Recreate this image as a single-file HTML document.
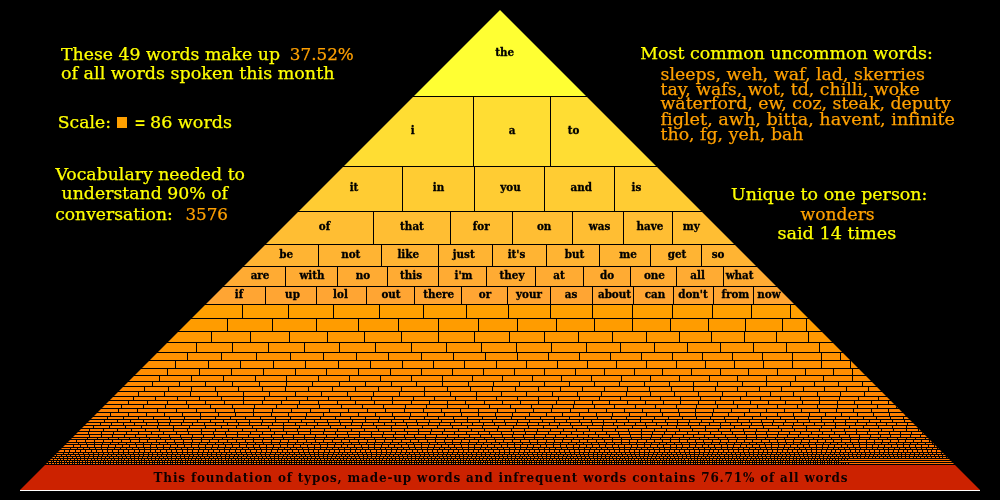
<!DOCTYPE html><html><head><meta charset="utf-8"><title>Word pyramid</title><style>html,body{margin:0;padding:0;background:#000;overflow:hidden}svg{display:block;will-change:transform}text{font-variant-ligatures:none;font-feature-settings:"liga" 0}</style></head><body>
<svg width="1000" height="500" viewBox="0 0 1000 500">
<rect width="1000" height="500" fill="#000"/>
<defs><clipPath id="tri"><polygon points="500,10 980,490 20,490"/></clipPath></defs>
<g clip-path="url(#tri)">
<rect x="0" y="10" width="1000" height="86" fill="#ffff33"/>
<rect x="0" y="97" width="1000" height="69" fill="#ffdd33"/>
<rect x="0" y="167" width="1000" height="44" fill="#ffcc33"/>
<rect x="0" y="212" width="1000" height="32" fill="#ffbe33"/>
<rect x="0" y="245" width="1000" height="21" fill="#ffb433"/>
<rect x="0" y="267" width="1000" height="19" fill="#ffab33"/>
<rect x="0" y="287" width="1000" height="17" fill="#ffa533"/>
<rect x="0" y="305" width="1000" height="13" fill="#ffa000"/>
<rect x="0" y="319" width="1000" height="12" fill="#ff9c00"/>
<rect x="0" y="332" width="1000" height="10" fill="#ff9800"/>
<rect x="0" y="343" width="1000" height="9" fill="#ff9500"/>
<rect x="0" y="353" width="1000" height="7" fill="#ff9200"/>
<rect x="0" y="361" width="1000" height="7" fill="#ff9000"/>
<rect x="0" y="369" width="1000" height="6" fill="#ff8d00"/>
<rect x="0" y="376" width="1000" height="5" fill="#ff8b00"/>
<rect x="0" y="382" width="1000" height="4" fill="#ff8a00"/>
<rect x="0" y="387" width="1000" height="4" fill="#ff8800"/>
<rect x="0" y="392" width="1000" height="4" fill="#ff8600"/>
<rect x="0" y="397" width="1000" height="3" fill="#ff8500"/>
<rect x="0" y="401" width="1000" height="3" fill="#ff8400"/>
<rect x="0" y="405" width="1000" height="3" fill="#ff8300"/>
<rect x="0" y="409" width="1000" height="3" fill="#ff8100"/>
<rect x="0" y="413" width="1000" height="3" fill="#ff8000"/>
<rect x="0" y="417" width="1000" height="2" fill="#ff7f00"/>
<rect x="0" y="420" width="1000" height="2" fill="#ff7e00"/>
<rect x="0" y="423" width="1000" height="2" fill="#ff7d00"/>
<rect x="0" y="426" width="1000" height="2" fill="#ff7c00"/>
<rect x="0" y="429" width="1000" height="2" fill="#ff7b00"/>
<rect x="0" y="432" width="1000" height="2" fill="#ff7a00"/>
<rect x="0" y="435" width="1000" height="2" fill="#ff7900"/>
<rect x="0" y="438" width="1000" height="1" fill="#ff7900"/>
<rect x="0" y="440" width="1000" height="2" fill="#ff7800"/>
<rect x="0" y="443" width="1000" height="1" fill="#ff7700"/>
<rect x="0" y="445" width="1000" height="2" fill="#ff7600"/>
<rect x="0" y="448" width="1000" height="1" fill="#ff7600"/>
<rect x="0" y="450" width="1000" height="2" fill="#ff7500"/>
<rect x="0" y="453" width="1000" height="1" fill="#ff7400"/>
<rect x="0" y="455" width="1000" height="1" fill="#ff7300"/>
<rect x="0" y="457" width="1000" height="1" fill="#ff7300"/>
<rect x="0" y="459" width="1000" height="1" fill="#ff7200"/>
<rect x="0" y="461" width="1000" height="1" fill="#ff7200"/>
<rect x="0" y="463" width="1000" height="1" fill="#ff7100"/>
<path d="M473.5 97V166M550.5 97V166M402.5 167V211M474.5 167V211M544.5 167V211M614.5 167V211M373.5 212V244M450.5 212V244M512.5 212V244M572.5 212V244M623.5 212V244M672.5 212V244M318.5 245V266M381.5 245V266M438.5 245V266M492.5 245V266M546.5 245V266M599.5 245V266M650.5 245V266M701.5 245V266M285.5 267V286M337.5 267V286M387.5 267V286M438.5 267V286M486.5 267V286M535.5 267V286M583.5 267V286M630.5 267V286M676.5 267V286M723.5 267V286M265.5 287V304M316.5 287V304M366.5 287V304M414.5 287V304M461.5 287V304M507.5 287V304M550.5 287V304M592.5 287V304M633.5 287V304M673.5 287V304M713.5 287V304M753.5 287V304M242.5 305V318M288.5 305V318M333.5 305V318M379.5 305V318M423.5 305V318M466.5 305V318M508.5 305V318M550.5 305V318M592.5 305V318M632.5 305V318M672.5 305V318M712.5 305V318M751.5 305V318M790.5 305V318M227.5 319V331M272.5 319V331M316.5 319V331M358.5 319V331M398.5 319V331M438.5 319V331M478.5 319V331M517.5 319V331M556.5 319V331M594.5 319V331M632.5 319V331M670.5 319V331M708.5 319V331M745.5 319V331M782.5 319V331M806.5 319V331M211.5 332V342M250.5 332V342M289.5 332V342M327.5 332V342M364.5 332V342M401.5 332V342M438.5 332V342M474.5 332V342M509.5 332V342M544.5 332V342M578.5 332V342M612.5 332V342M646.5 332V342M679.5 332V342M711.5 332V342M744.5 332V342M776.5 332V342M808.5 332V342M196.5 343V352M232.5 343V352M268.5 343V352M304.5 343V352M339.5 343V352M375.5 343V352M411.5 343V352M446.5 343V352M481.5 343V352M516.5 343V352M551.5 343V352M586.5 343V352M620.5 343V352M654.5 343V352M687.5 343V352M720.5 343V352M753.5 343V352M786.5 343V352M819.5 343V352M187.5 353V360M221.5 353V360M256.5 353V360M290.5 353V360M323.5 353V360M356.5 353V360M388.5 353V360M421.5 353V360M453.5 353V360M485.5 353V360M517.5 353V360M548.5 353V360M579.5 353V360M610.5 353V360M641.5 353V360M672.5 353V360M702.5 353V360M732.5 353V360M762.5 353V360M792.5 353V360M821.5 353V360M840.5 353V360M175.5 361V368M208.5 361V368M240.5 361V368M273.5 361V368M305.5 361V368M338.5 361V368M370.5 361V368M402.5 361V368M433.5 361V368M464.5 361V368M496.5 361V368M526.5 361V368M557.5 361V368M587.5 361V368M616.5 361V368M646.5 361V368M676.5 361V368M705.5 361V368M734.5 361V368M763.5 361V368M792.5 361V368M821.5 361V368M850.5 361V368M167.5 369V375M199.5 369V375M231.5 369V375M263.5 369V375M295.5 369V375M326.5 369V375M358.5 369V375M390.5 369V375M421.5 369V375M452.5 369V375M483.5 369V375M514.5 369V375M544.5 369V375M575.5 369V375M604.5 369V375M634.5 369V375M662.5 369V375M691.5 369V375M720.5 369V375M748.5 369V375M777.5 369V375M805.5 369V375M833.5 369V375M852.5 369V375M159.5 376V381M191.5 376V381M223.5 376V381M255.5 376V381M286.5 376V381M318.5 376V381M349.5 376V381M380.5 376V381M411.5 376V381M442.5 376V381M472.5 376V381M502.5 376V381M532.5 376V381M561.5 376V381M591.5 376V381M621.5 376V381M650.5 376V381M679.5 376V381M709.5 376V381M737.5 376V381M766.5 376V381M795.5 376V381M823.5 376V381M852.5 376V381M152.5 382V386M179.5 382V386M205.5 382V386M232.5 382V386M259.5 382V386M286.5 382V386M312.5 382V386M339.5 382V386M365.5 382V386M391.5 382V386M416.5 382V386M442.5 382V386M468.5 382V386M493.5 382V386M519.5 382V386M544.5 382V386M569.5 382V386M594.5 382V386M619.5 382V386M644.5 382V386M669.5 382V386M693.5 382V386M717.5 382V386M742.5 382V386M766.5 382V386M790.5 382V386M814.5 382V386M838.5 382V386M862.5 382V386M144.5 387V391M168.5 387V391M191.5 387V391M215.5 387V391M238.5 387V391M262.5 387V391M285.5 387V391M308.5 387V391M332.5 387V391M355.5 387V391M378.5 387V391M401.5 387V391M424.5 387V391M447.5 387V391M470.5 387V391M492.5 387V391M515.5 387V391M538.5 387V391M560.5 387V391M582.5 387V391M604.5 387V391M627.5 387V391M649.5 387V391M671.5 387V391M693.5 387V391M715.5 387V391M737.5 387V391M759.5 387V391M781.5 387V391M803.5 387V391M824.5 387V391M846.5 387V391M868.5 387V391M138.5 392V396M164.5 392V396M190.5 392V396M217.5 392V396M243.5 392V396M269.5 392V396M295.5 392V396M321.5 392V396M347.5 392V396M373.5 392V396M399.5 392V396M424.5 392V396M450.5 392V396M476.5 392V396M501.5 392V396M526.5 392V396M552.5 392V396M577.5 392V396M601.5 392V396M626.5 392V396M650.5 392V396M674.5 392V396M698.5 392V396M722.5 392V396M746.5 392V396M770.5 392V396M793.5 392V396M817.5 392V396M840.5 392V396M864.5 392V396M133.5 397V400M155.5 397V400M177.5 397V400M199.5 397V400M221.5 397V400M243.5 397V400M264.5 397V400M286.5 397V400M307.5 397V400M328.5 397V400M350.5 397V400M371.5 397V400M392.5 397V400M413.5 397V400M434.5 397V400M455.5 397V400M476.5 397V400M496.5 397V400M517.5 397V400M538.5 397V400M558.5 397V400M579.5 397V400M599.5 397V400M620.5 397V400M640.5 397V400M660.5 397V400M680.5 397V400M700.5 397V400M720.5 397V400M740.5 397V400M760.5 397V400M780.5 397V400M800.5 397V400M819.5 397V400M839.5 397V400M858.5 397V400M878.5 397V400M128.5 401V404M147.5 401V404M167.5 401V404M186.5 401V404M205.5 401V404M224.5 401V404M243.5 401V404M262.5 401V404M281.5 401V404M299.5 401V404M318.5 401V404M337.5 401V404M355.5 401V404M374.5 401V404M392.5 401V404M411.5 401V404M429.5 401V404M447.5 401V404M465.5 401V404M484.5 401V404M502.5 401V404M520.5 401V404M538.5 401V404M556.5 401V404M574.5 401V404M592.5 401V404M609.5 401V404M627.5 401V404M645.5 401V404M663.5 401V404M680.5 401V404M698.5 401V404M715.5 401V404M733.5 401V404M750.5 401V404M768.5 401V404M785.5 401V404M802.5 401V404M819.5 401V404M837.5 401V404M854.5 401V404M871.5 401V404M888.5 401V404M121.5 405V408M143.5 405V408M165.5 405V408M188.5 405V408M210.5 405V408M232.5 405V408M254.5 405V408M276.5 405V408M297.5 405V408M319.5 405V408M341.5 405V408M362.5 405V408M383.5 405V408M405.5 405V408M426.5 405V408M447.5 405V408M468.5 405V408M489.5 405V408M510.5 405V408M531.5 405V408M552.5 405V408M573.5 405V408M594.5 405V408M614.5 405V408M635.5 405V408M655.5 405V408M676.5 405V408M696.5 405V408M717.5 405V408M737.5 405V408M757.5 405V408M777.5 405V408M797.5 405V408M817.5 405V408M837.5 405V408M857.5 405V408M877.5 405V408M896.5 405V408M118.5 409V412M137.5 409V412M157.5 409V412M176.5 409V412M196.5 409V412M215.5 409V412M234.5 409V412M253.5 409V412M272.5 409V412M291.5 409V412M310.5 409V412M329.5 409V412M348.5 409V412M367.5 409V412M385.5 409V412M404.5 409V412M423.5 409V412M441.5 409V412M460.5 409V412M478.5 409V412M497.5 409V412M515.5 409V412M533.5 409V412M551.5 409V412M570.5 409V412M588.5 409V412M606.5 409V412M624.5 409V412M642.5 409V412M660.5 409V412M678.5 409V412M695.5 409V412M713.5 409V412M731.5 409V412M749.5 409V412M766.5 409V412M784.5 409V412M801.5 409V412M819.5 409V412M836.5 409V412M853.5 409V412M871.5 409V412M888.5 409V412M110.5 413V416M128.5 413V416M146.5 413V416M164.5 413V416M182.5 413V416M200.5 413V416M218.5 413V416M235.5 413V416M253.5 413V416M271.5 413V416M288.5 413V416M306.5 413V416M323.5 413V416M340.5 413V416M358.5 413V416M375.5 413V416M392.5 413V416M410.5 413V416M427.5 413V416M444.5 413V416M461.5 413V416M478.5 413V416M495.5 413V416M512.5 413V416M529.5 413V416M546.5 413V416M562.5 413V416M579.5 413V416M596.5 413V416M612.5 413V416M629.5 413V416M646.5 413V416M662.5 413V416M679.5 413V416M695.5 413V416M712.5 413V416M728.5 413V416M744.5 413V416M760.5 413V416M777.5 413V416M793.5 413V416M809.5 413V416M825.5 413V416M841.5 413V416M857.5 413V416M873.5 413V416M889.5 413V416M905.5 413V416M107.5 417V419M123.5 417V419M138.5 417V419M153.5 417V419M169.5 417V419M184.5 417V419M200.5 417V419M215.5 417V419M230.5 417V419M245.5 417V419M260.5 417V419M275.5 417V419M290.5 417V419M305.5 417V419M320.5 417V419M335.5 417V419M350.5 417V419M365.5 417V419M379.5 417V419M394.5 417V419M409.5 417V419M424.5 417V419M438.5 417V419M453.5 417V419M467.5 417V419M482.5 417V419M496.5 417V419M511.5 417V419M525.5 417V419M540.5 417V419M554.5 417V419M569.5 417V419M583.5 417V419M597.5 417V419M611.5 417V419M626.5 417V419M640.5 417V419M654.5 417V419M668.5 417V419M682.5 417V419M696.5 417V419M710.5 417V419M724.5 417V419M738.5 417V419M752.5 417V419M766.5 417V419M780.5 417V419M794.5 417V419M808.5 417V419M821.5 417V419M835.5 417V419M849.5 417V419M863.5 417V419M876.5 417V419M890.5 417V419M903.5 417V419M104.5 420V422M117.5 420V422M130.5 420V422M143.5 420V422M157.5 420V422M170.5 420V422M183.5 420V422M197.5 420V422M210.5 420V422M223.5 420V422M236.5 420V422M249.5 420V422M262.5 420V422M275.5 420V422M288.5 420V422M301.5 420V422M314.5 420V422M327.5 420V422M339.5 420V422M352.5 420V422M365.5 420V422M378.5 420V422M391.5 420V422M403.5 420V422M416.5 420V422M429.5 420V422M441.5 420V422M454.5 420V422M467.5 420V422M479.5 420V422M492.5 420V422M504.5 420V422M517.5 420V422M529.5 420V422M542.5 420V422M554.5 420V422M566.5 420V422M579.5 420V422M591.5 420V422M603.5 420V422M616.5 420V422M628.5 420V422M640.5 420V422M652.5 420V422M665.5 420V422M677.5 420V422M689.5 420V422M701.5 420V422M713.5 420V422M725.5 420V422M737.5 420V422M749.5 420V422M761.5 420V422M773.5 420V422M785.5 420V422M797.5 420V422M809.5 420V422M821.5 420V422M833.5 420V422M845.5 420V422M857.5 420V422M869.5 420V422M880.5 420V422M892.5 420V422M904.5 420V422M100.5 423V425M111.5 423V425M123.5 423V425M134.5 423V425M146.5 423V425M158.5 423V425M169.5 423V425M181.5 423V425M192.5 423V425M204.5 423V425M215.5 423V425M227.5 423V425M238.5 423V425M249.5 423V425M261.5 423V425M272.5 423V425M283.5 423V425M295.5 423V425M306.5 423V425M317.5 423V425M328.5 423V425M340.5 423V425M351.5 423V425M362.5 423V425M373.5 423V425M384.5 423V425M395.5 423V425M406.5 423V425M417.5 423V425M428.5 423V425M439.5 423V425M450.5 423V425M461.5 423V425M472.5 423V425M483.5 423V425M494.5 423V425M505.5 423V425M516.5 423V425M527.5 423V425M538.5 423V425M549.5 423V425M559.5 423V425M570.5 423V425M581.5 423V425M592.5 423V425M603.5 423V425M613.5 423V425M624.5 423V425M635.5 423V425M645.5 423V425M656.5 423V425M667.5 423V425M677.5 423V425M688.5 423V425M699.5 423V425M709.5 423V425M720.5 423V425M730.5 423V425M741.5 423V425M751.5 423V425M762.5 423V425M772.5 423V425M783.5 423V425M793.5 423V425M803.5 423V425M814.5 423V425M824.5 423V425M835.5 423V425M845.5 423V425M855.5 423V425M866.5 423V425M876.5 423V425M886.5 423V425M896.5 423V425M907.5 423V425M93.5 426V428M109.5 426V428M125.5 426V428M141.5 426V428M157.5 426V428M173.5 426V428M189.5 426V428M205.5 426V428M221.5 426V428M236.5 426V428M252.5 426V428M268.5 426V428M283.5 426V428M299.5 426V428M314.5 426V428M330.5 426V428M345.5 426V428M361.5 426V428M376.5 426V428M391.5 426V428M407.5 426V428M422.5 426V428M437.5 426V428M452.5 426V428M467.5 426V428M482.5 426V428M498.5 426V428M513.5 426V428M528.5 426V428M543.5 426V428M557.5 426V428M572.5 426V428M587.5 426V428M602.5 426V428M617.5 426V428M632.5 426V428M646.5 426V428M661.5 426V428M676.5 426V428M690.5 426V428M705.5 426V428M720.5 426V428M734.5 426V428M749.5 426V428M763.5 426V428M778.5 426V428M792.5 426V428M806.5 426V428M821.5 426V428M835.5 426V428M849.5 426V428M863.5 426V428M878.5 426V428M892.5 426V428M906.5 426V428M920.5 426V428M89.5 429V431M103.5 429V431M117.5 429V431M131.5 429V431M145.5 429V431M159.5 429V431M173.5 429V431M187.5 429V431M201.5 429V431M215.5 429V431M228.5 429V431M242.5 429V431M256.5 429V431M270.5 429V431M283.5 429V431M297.5 429V431M310.5 429V431M324.5 429V431M337.5 429V431M351.5 429V431M364.5 429V431M378.5 429V431M391.5 429V431M404.5 429V431M418.5 429V431M431.5 429V431M444.5 429V431M458.5 429V431M471.5 429V431M484.5 429V431M497.5 429V431M511.5 429V431M524.5 429V431M537.5 429V431M550.5 429V431M563.5 429V431M576.5 429V431M589.5 429V431M602.5 429V431M615.5 429V431M628.5 429V431M641.5 429V431M654.5 429V431M666.5 429V431M679.5 429V431M692.5 429V431M705.5 429V431M718.5 429V431M730.5 429V431M743.5 429V431M756.5 429V431M768.5 429V431M781.5 429V431M794.5 429V431M806.5 429V431M819.5 429V431M831.5 429V431M844.5 429V431M856.5 429V431M869.5 429V431M881.5 429V431M893.5 429V431M906.5 429V431M918.5 429V431M88.5 432V434M101.5 432V434M113.5 432V434M126.5 432V434M138.5 432V434M151.5 432V434M163.5 432V434M176.5 432V434M188.5 432V434M201.5 432V434M213.5 432V434M225.5 432V434M237.5 432V434M250.5 432V434M262.5 432V434M274.5 432V434M286.5 432V434M298.5 432V434M310.5 432V434M323.5 432V434M335.5 432V434M347.5 432V434M359.5 432V434M371.5 432V434M383.5 432V434M395.5 432V434M407.5 432V434M418.5 432V434M430.5 432V434M442.5 432V434M454.5 432V434M466.5 432V434M478.5 432V434M489.5 432V434M501.5 432V434M513.5 432V434M525.5 432V434M536.5 432V434M548.5 432V434M560.5 432V434M571.5 432V434M583.5 432V434M595.5 432V434M606.5 432V434M618.5 432V434M629.5 432V434M641.5 432V434M652.5 432V434M664.5 432V434M675.5 432V434M687.5 432V434M698.5 432V434M710.5 432V434M721.5 432V434M732.5 432V434M744.5 432V434M755.5 432V434M766.5 432V434M778.5 432V434M789.5 432V434M800.5 432V434M811.5 432V434M822.5 432V434M834.5 432V434M845.5 432V434M856.5 432V434M867.5 432V434M878.5 432V434M889.5 432V434M900.5 432V434M911.5 432V434M922.5 432V434M89.5 435V437M101.5 435V437M112.5 435V437M124.5 435V437M135.5 435V437M146.5 435V437M158.5 435V437M169.5 435V437M180.5 435V437M192.5 435V437M203.5 435V437M214.5 435V437M226.5 435V437M237.5 435V437M248.5 435V437M259.5 435V437M271.5 435V437M282.5 435V437M293.5 435V437M304.5 435V437M315.5 435V437M326.5 435V437M337.5 435V437M348.5 435V437M359.5 435V437M371.5 435V437M382.5 435V437M393.5 435V437M404.5 435V437M414.5 435V437M425.5 435V437M436.5 435V437M447.5 435V437M458.5 435V437M469.5 435V437M480.5 435V437M491.5 435V437M502.5 435V437M512.5 435V437M523.5 435V437M534.5 435V437M545.5 435V437M555.5 435V437M566.5 435V437M577.5 435V437M588.5 435V437M598.5 435V437M609.5 435V437M619.5 435V437M630.5 435V437M641.5 435V437M651.5 435V437M662.5 435V437M672.5 435V437M683.5 435V437M693.5 435V437M704.5 435V437M714.5 435V437M725.5 435V437M735.5 435V437M746.5 435V437M756.5 435V437M767.5 435V437M777.5 435V437M787.5 435V437M798.5 435V437M808.5 435V437M818.5 435V437M829.5 435V437M839.5 435V437M849.5 435V437M859.5 435V437M870.5 435V437M880.5 435V437M890.5 435V437M900.5 435V437M910.5 435V437M920.5 435V437M87.5 438V439M97.5 438V439M108.5 438V439M118.5 438V439M129.5 438V439M139.5 438V439M149.5 438V439M160.5 438V439M170.5 438V439M181.5 438V439M191.5 438V439M201.5 438V439M212.5 438V439M222.5 438V439M232.5 438V439M242.5 438V439M253.5 438V439M263.5 438V439M273.5 438V439M283.5 438V439M293.5 438V439M304.5 438V439M314.5 438V439M324.5 438V439M334.5 438V439M344.5 438V439M354.5 438V439M364.5 438V439M374.5 438V439M385.5 438V439M395.5 438V439M405.5 438V439M415.5 438V439M425.5 438V439M435.5 438V439M445.5 438V439M454.5 438V439M464.5 438V439M474.5 438V439M484.5 438V439M494.5 438V439M504.5 438V439M514.5 438V439M524.5 438V439M534.5 438V439M543.5 438V439M553.5 438V439M563.5 438V439M573.5 438V439M583.5 438V439M592.5 438V439M602.5 438V439M612.5 438V439M621.5 438V439M631.5 438V439M641.5 438V439M650.5 438V439M660.5 438V439M670.5 438V439M679.5 438V439M689.5 438V439M699.5 438V439M708.5 438V439M718.5 438V439M727.5 438V439M737.5 438V439M746.5 438V439M756.5 438V439M765.5 438V439M775.5 438V439M784.5 438V439M794.5 438V439M803.5 438V439M813.5 438V439M822.5 438V439M831.5 438V439M841.5 438V439M850.5 438V439M859.5 438V439M869.5 438V439M878.5 438V439M887.5 438V439M897.5 438V439M906.5 438V439M915.5 438V439M925.5 438V439M76.5 440V442M85.5 440V442M94.5 440V442M103.5 440V442M112.5 440V442M121.5 440V442M130.5 440V442M139.5 440V442M147.5 440V442M156.5 440V442M165.5 440V442M174.5 440V442M183.5 440V442M192.5 440V442M201.5 440V442M209.5 440V442M218.5 440V442M227.5 440V442M236.5 440V442M245.5 440V442M253.5 440V442M262.5 440V442M271.5 440V442M280.5 440V442M288.5 440V442M297.5 440V442M306.5 440V442M315.5 440V442M323.5 440V442M332.5 440V442M341.5 440V442M349.5 440V442M358.5 440V442M367.5 440V442M375.5 440V442M384.5 440V442M392.5 440V442M401.5 440V442M410.5 440V442M418.5 440V442M427.5 440V442M435.5 440V442M444.5 440V442M452.5 440V442M461.5 440V442M469.5 440V442M478.5 440V442M486.5 440V442M495.5 440V442M503.5 440V442M512.5 440V442M520.5 440V442M529.5 440V442M537.5 440V442M546.5 440V442M554.5 440V442M562.5 440V442M571.5 440V442M579.5 440V442M587.5 440V442M596.5 440V442M604.5 440V442M612.5 440V442M621.5 440V442M629.5 440V442M637.5 440V442M646.5 440V442M654.5 440V442M662.5 440V442M670.5 440V442M679.5 440V442M687.5 440V442M695.5 440V442M703.5 440V442M712.5 440V442M720.5 440V442M728.5 440V442M736.5 440V442M744.5 440V442M752.5 440V442M761.5 440V442M769.5 440V442M777.5 440V442M785.5 440V442M793.5 440V442M801.5 440V442M809.5 440V442M817.5 440V442M825.5 440V442M833.5 440V442M841.5 440V442M850.5 440V442M858.5 440V442M866.5 440V442M874.5 440V442M882.5 440V442M890.5 440V442M898.5 440V442M905.5 440V442M913.5 440V442M921.5 440V442M929.5 440V442M78.5 443V444M86.5 443V444M94.5 443V444M102.5 443V444M110.5 443V444M118.5 443V444M126.5 443V444M135.5 443V444M143.5 443V444M151.5 443V444M159.5 443V444M167.5 443V444M175.5 443V444M183.5 443V444M191.5 443V444M199.5 443V444M207.5 443V444M215.5 443V444M223.5 443V444M231.5 443V444M239.5 443V444M247.5 443V444M255.5 443V444M263.5 443V444M271.5 443V444M279.5 443V444M287.5 443V444M295.5 443V444M303.5 443V444M311.5 443V444M319.5 443V444M327.5 443V444M335.5 443V444M343.5 443V444M351.5 443V444M359.5 443V444M366.5 443V444M374.5 443V444M382.5 443V444M390.5 443V444M398.5 443V444M406.5 443V444M413.5 443V444M421.5 443V444M429.5 443V444M437.5 443V444M445.5 443V444M452.5 443V444M460.5 443V444M468.5 443V444M476.5 443V444M483.5 443V444M491.5 443V444M499.5 443V444M507.5 443V444M514.5 443V444M522.5 443V444M530.5 443V444M537.5 443V444M545.5 443V444M553.5 443V444M560.5 443V444M568.5 443V444M576.5 443V444M583.5 443V444M591.5 443V444M598.5 443V444M606.5 443V444M614.5 443V444M621.5 443V444M629.5 443V444M636.5 443V444M644.5 443V444M651.5 443V444M659.5 443V444M666.5 443V444M674.5 443V444M681.5 443V444M689.5 443V444M696.5 443V444M704.5 443V444M711.5 443V444M719.5 443V444M726.5 443V444M734.5 443V444M741.5 443V444M749.5 443V444M756.5 443V444M764.5 443V444M771.5 443V444M778.5 443V444M786.5 443V444M793.5 443V444M800.5 443V444M808.5 443V444M815.5 443V444M823.5 443V444M830.5 443V444M837.5 443V444M845.5 443V444M852.5 443V444M859.5 443V444M866.5 443V444M874.5 443V444M881.5 443V444M888.5 443V444M896.5 443V444M903.5 443V444M910.5 443V444M917.5 443V444M925.5 443V444M932.5 443V444M73.5 445V447M80.5 445V447M87.5 445V447M94.5 445V447M101.5 445V447M108.5 445V447M115.5 445V447M122.5 445V447M129.5 445V447M136.5 445V447M143.5 445V447M150.5 445V447M156.5 445V447M163.5 445V447M170.5 445V447M177.5 445V447M184.5 445V447M191.5 445V447M198.5 445V447M205.5 445V447M212.5 445V447M218.5 445V447M225.5 445V447M232.5 445V447M239.5 445V447M246.5 445V447M253.5 445V447M259.5 445V447M266.5 445V447M273.5 445V447M280.5 445V447M287.5 445V447M293.5 445V447M300.5 445V447M307.5 445V447M314.5 445V447M320.5 445V447M327.5 445V447M334.5 445V447M341.5 445V447M347.5 445V447M354.5 445V447M361.5 445V447M368.5 445V447M374.5 445V447M381.5 445V447M388.5 445V447M394.5 445V447M401.5 445V447M408.5 445V447M414.5 445V447M421.5 445V447M428.5 445V447M434.5 445V447M441.5 445V447M448.5 445V447M454.5 445V447M461.5 445V447M468.5 445V447M474.5 445V447M481.5 445V447M487.5 445V447M494.5 445V447M501.5 445V447M507.5 445V447M514.5 445V447M520.5 445V447M527.5 445V447M533.5 445V447M540.5 445V447M546.5 445V447M553.5 445V447M560.5 445V447M566.5 445V447M573.5 445V447M579.5 445V447M586.5 445V447M592.5 445V447M599.5 445V447M605.5 445V447M612.5 445V447M618.5 445V447M624.5 445V447M631.5 445V447M637.5 445V447M644.5 445V447M650.5 445V447M657.5 445V447M663.5 445V447M670.5 445V447M676.5 445V447M682.5 445V447M689.5 445V447M695.5 445V447M702.5 445V447M708.5 445V447M714.5 445V447M721.5 445V447M727.5 445V447M733.5 445V447M740.5 445V447M746.5 445V447M752.5 445V447M759.5 445V447M765.5 445V447M771.5 445V447M778.5 445V447M784.5 445V447M790.5 445V447M797.5 445V447M803.5 445V447M809.5 445V447M816.5 445V447M822.5 445V447M828.5 445V447M834.5 445V447M841.5 445V447M847.5 445V447M853.5 445V447M859.5 445V447M866.5 445V447M872.5 445V447M878.5 445V447M884.5 445V447M891.5 445V447M897.5 445V447M903.5 445V447M909.5 445V447M915.5 445V447M921.5 445V447M928.5 445V447M934.5 445V447M70.5 448V449M77.5 448V449M83.5 448V449M89.5 448V449M95.5 448V449M101.5 448V449M107.5 448V449M114.5 448V449M120.5 448V449M126.5 448V449M132.5 448V449M138.5 448V449M144.5 448V449M150.5 448V449M157.5 448V449M163.5 448V449M169.5 448V449M175.5 448V449M181.5 448V449M187.5 448V449M193.5 448V449M199.5 448V449M205.5 448V449M211.5 448V449M217.5 448V449M224.5 448V449M230.5 448V449M236.5 448V449M242.5 448V449M248.5 448V449M254.5 448V449M260.5 448V449M266.5 448V449M272.5 448V449M278.5 448V449M284.5 448V449M290.5 448V449M296.5 448V449M302.5 448V449M308.5 448V449M314.5 448V449M320.5 448V449M326.5 448V449M332.5 448V449M338.5 448V449M344.5 448V449M350.5 448V449M356.5 448V449M362.5 448V449M368.5 448V449M374.5 448V449M380.5 448V449M385.5 448V449M391.5 448V449M397.5 448V449M403.5 448V449M409.5 448V449M415.5 448V449M421.5 448V449M427.5 448V449M433.5 448V449M439.5 448V449M444.5 448V449M450.5 448V449M456.5 448V449M462.5 448V449M468.5 448V449M474.5 448V449M480.5 448V449M485.5 448V449M491.5 448V449M497.5 448V449M503.5 448V449M509.5 448V449M515.5 448V449M520.5 448V449M526.5 448V449M532.5 448V449M538.5 448V449M544.5 448V449M549.5 448V449M555.5 448V449M561.5 448V449M567.5 448V449M573.5 448V449M578.5 448V449M584.5 448V449M590.5 448V449M596.5 448V449M601.5 448V449M607.5 448V449M613.5 448V449M619.5 448V449M624.5 448V449M630.5 448V449M636.5 448V449M641.5 448V449M647.5 448V449M653.5 448V449M659.5 448V449M664.5 448V449M670.5 448V449M676.5 448V449M681.5 448V449M687.5 448V449M693.5 448V449M698.5 448V449M704.5 448V449M710.5 448V449M715.5 448V449M721.5 448V449M727.5 448V449M732.5 448V449M738.5 448V449M743.5 448V449M749.5 448V449M755.5 448V449M760.5 448V449M766.5 448V449M771.5 448V449M777.5 448V449M783.5 448V449M788.5 448V449M794.5 448V449M799.5 448V449M805.5 448V449M811.5 448V449M816.5 448V449M822.5 448V449M827.5 448V449M833.5 448V449M838.5 448V449M844.5 448V449M849.5 448V449M855.5 448V449M860.5 448V449M866.5 448V449M872.5 448V449M877.5 448V449M883.5 448V449M888.5 448V449M894.5 448V449M899.5 448V449M905.5 448V449M910.5 448V449M916.5 448V449M921.5 448V449M926.5 448V449M932.5 448V449M937.5 448V449M64.5 450V452M69.5 450V452M75.5 450V452M80.5 450V452M85.5 450V452M91.5 450V452M96.5 450V452M102.5 450V452M107.5 450V452M112.5 450V452M118.5 450V452M123.5 450V452M128.5 450V452M134.5 450V452M139.5 450V452M144.5 450V452M150.5 450V452M155.5 450V452M160.5 450V452M166.5 450V452M171.5 450V452M176.5 450V452M182.5 450V452M187.5 450V452M192.5 450V452M198.5 450V452M203.5 450V452M208.5 450V452M213.5 450V452M219.5 450V452M224.5 450V452M229.5 450V452M235.5 450V452M240.5 450V452M245.5 450V452M250.5 450V452M256.5 450V452M261.5 450V452M266.5 450V452M271.5 450V452M277.5 450V452M282.5 450V452M287.5 450V452M292.5 450V452M298.5 450V452M303.5 450V452M308.5 450V452M313.5 450V452M318.5 450V452M324.5 450V452M329.5 450V452M334.5 450V452M339.5 450V452M344.5 450V452M350.5 450V452M355.5 450V452M360.5 450V452M365.5 450V452M370.5 450V452M376.5 450V452M381.5 450V452M386.5 450V452M391.5 450V452M396.5 450V452M401.5 450V452M406.5 450V452M412.5 450V452M417.5 450V452M422.5 450V452M427.5 450V452M432.5 450V452M437.5 450V452M442.5 450V452M448.5 450V452M453.5 450V452M458.5 450V452M463.5 450V452M468.5 450V452M473.5 450V452M478.5 450V452M483.5 450V452M488.5 450V452M493.5 450V452M499.5 450V452M504.5 450V452M509.5 450V452M514.5 450V452M519.5 450V452M524.5 450V452M529.5 450V452M534.5 450V452M539.5 450V452M544.5 450V452M549.5 450V452M554.5 450V452M559.5 450V452M564.5 450V452M569.5 450V452M574.5 450V452M579.5 450V452M584.5 450V452M589.5 450V452M594.5 450V452M599.5 450V452M604.5 450V452M609.5 450V452M614.5 450V452M619.5 450V452M624.5 450V452M629.5 450V452M634.5 450V452M639.5 450V452M644.5 450V452M649.5 450V452M654.5 450V452M659.5 450V452M664.5 450V452M669.5 450V452M674.5 450V452M679.5 450V452M684.5 450V452M689.5 450V452M694.5 450V452M699.5 450V452M704.5 450V452M709.5 450V452M713.5 450V452M718.5 450V452M723.5 450V452M728.5 450V452M733.5 450V452M738.5 450V452M743.5 450V452M748.5 450V452M753.5 450V452M758.5 450V452M763.5 450V452M767.5 450V452M772.5 450V452M777.5 450V452M782.5 450V452M787.5 450V452M792.5 450V452M797.5 450V452M801.5 450V452M806.5 450V452M811.5 450V452M816.5 450V452M821.5 450V452M826.5 450V452M831.5 450V452M835.5 450V452M840.5 450V452M845.5 450V452M850.5 450V452M855.5 450V452M859.5 450V452M864.5 450V452M869.5 450V452M874.5 450V452M879.5 450V452M884.5 450V452M888.5 450V452M893.5 450V452M898.5 450V452M903.5 450V452M907.5 450V452M912.5 450V452M917.5 450V452M922.5 450V452M927.5 450V452M931.5 450V452M936.5 450V452M941.5 450V452M63.5 453V454M68.5 453V454M73.5 453V454M78.5 453V454M83.5 453V454M88.5 453V454M93.5 453V454M98.5 453V454M103.5 453V454M108.5 453V454M113.5 453V454M118.5 453V454M123.5 453V454M128.5 453V454M133.5 453V454M138.5 453V454M143.5 453V454M148.5 453V454M152.5 453V454M157.5 453V454M162.5 453V454M167.5 453V454M172.5 453V454M177.5 453V454M182.5 453V454M187.5 453V454M192.5 453V454M197.5 453V454M202.5 453V454M207.5 453V454M211.5 453V454M216.5 453V454M221.5 453V454M226.5 453V454M231.5 453V454M236.5 453V454M241.5 453V454M246.5 453V454M251.5 453V454M255.5 453V454M260.5 453V454M265.5 453V454M270.5 453V454M275.5 453V454M280.5 453V454M285.5 453V454M289.5 453V454M294.5 453V454M299.5 453V454M304.5 453V454M309.5 453V454M314.5 453V454M318.5 453V454M323.5 453V454M328.5 453V454M333.5 453V454M338.5 453V454M342.5 453V454M347.5 453V454M352.5 453V454M357.5 453V454M362.5 453V454M366.5 453V454M371.5 453V454M376.5 453V454M381.5 453V454M386.5 453V454M390.5 453V454M395.5 453V454M400.5 453V454M405.5 453V454M409.5 453V454M414.5 453V454M419.5 453V454M424.5 453V454M428.5 453V454M433.5 453V454M438.5 453V454M443.5 453V454M447.5 453V454M452.5 453V454M457.5 453V454M462.5 453V454M466.5 453V454M471.5 453V454M476.5 453V454M481.5 453V454M485.5 453V454M490.5 453V454M495.5 453V454M499.5 453V454M504.5 453V454M509.5 453V454M513.5 453V454M518.5 453V454M523.5 453V454M527.5 453V454M532.5 453V454M537.5 453V454M542.5 453V454M546.5 453V454M551.5 453V454M556.5 453V454M560.5 453V454M565.5 453V454M570.5 453V454M574.5 453V454M579.5 453V454M583.5 453V454M588.5 453V454M593.5 453V454M597.5 453V454M602.5 453V454M607.5 453V454M611.5 453V454M616.5 453V454M621.5 453V454M625.5 453V454M630.5 453V454M634.5 453V454M639.5 453V454M644.5 453V454M648.5 453V454M653.5 453V454M657.5 453V454M662.5 453V454M667.5 453V454M671.5 453V454M676.5 453V454M680.5 453V454M685.5 453V454M689.5 453V454M694.5 453V454M699.5 453V454M703.5 453V454M708.5 453V454M712.5 453V454M717.5 453V454M721.5 453V454M726.5 453V454M731.5 453V454M735.5 453V454M740.5 453V454M744.5 453V454M749.5 453V454M753.5 453V454M758.5 453V454M762.5 453V454M767.5 453V454M771.5 453V454M776.5 453V454M780.5 453V454M785.5 453V454M789.5 453V454M794.5 453V454M798.5 453V454M803.5 453V454M807.5 453V454M812.5 453V454M816.5 453V454M821.5 453V454M825.5 453V454M830.5 453V454M834.5 453V454M839.5 453V454M843.5 453V454M848.5 453V454M852.5 453V454M857.5 453V454M861.5 453V454M865.5 453V454M870.5 453V454M874.5 453V454M879.5 453V454M883.5 453V454M888.5 453V454M892.5 453V454M897.5 453V454M901.5 453V454M905.5 453V454M910.5 453V454M914.5 453V454M919.5 453V454M923.5 453V454M928.5 453V454M932.5 453V454M936.5 453V454M941.5 453V454M56.5 455V456M61.5 455V456M66.5 455V456M70.5 455V456M75.5 455V456M79.5 455V456M84.5 455V456M89.5 455V456M93.5 455V456M98.5 455V456M102.5 455V456M107.5 455V456M111.5 455V456M116.5 455V456M121.5 455V456M125.5 455V456M130.5 455V456M134.5 455V456M139.5 455V456M143.5 455V456M148.5 455V456M152.5 455V456M157.5 455V456M161.5 455V456M166.5 455V456M171.5 455V456M175.5 455V456M180.5 455V456M184.5 455V456M189.5 455V456M193.5 455V456M198.5 455V456M202.5 455V456M207.5 455V456M211.5 455V456M216.5 455V456M220.5 455V456M225.5 455V456M229.5 455V456M234.5 455V456M238.5 455V456M243.5 455V456M247.5 455V456M252.5 455V456M256.5 455V456M261.5 455V456M265.5 455V456M269.5 455V456M274.5 455V456M278.5 455V456M283.5 455V456M287.5 455V456M292.5 455V456M296.5 455V456M301.5 455V456M305.5 455V456M310.5 455V456M314.5 455V456M318.5 455V456M323.5 455V456M327.5 455V456M332.5 455V456M336.5 455V456M341.5 455V456M345.5 455V456M349.5 455V456M354.5 455V456M358.5 455V456M363.5 455V456M367.5 455V456M371.5 455V456M376.5 455V456M380.5 455V456M385.5 455V456M389.5 455V456M393.5 455V456M398.5 455V456M402.5 455V456M407.5 455V456M411.5 455V456M415.5 455V456M420.5 455V456M424.5 455V456M429.5 455V456M433.5 455V456M437.5 455V456M442.5 455V456M446.5 455V456M450.5 455V456M455.5 455V456M459.5 455V456M463.5 455V456M468.5 455V456M472.5 455V456M476.5 455V456M481.5 455V456M485.5 455V456M489.5 455V456M494.5 455V456M498.5 455V456M502.5 455V456M507.5 455V456M511.5 455V456M515.5 455V456M520.5 455V456M524.5 455V456M528.5 455V456M533.5 455V456M537.5 455V456M541.5 455V456M546.5 455V456M550.5 455V456M554.5 455V456M558.5 455V456M563.5 455V456M567.5 455V456M571.5 455V456M576.5 455V456M580.5 455V456M584.5 455V456M588.5 455V456M593.5 455V456M597.5 455V456M601.5 455V456M605.5 455V456M610.5 455V456M614.5 455V456M618.5 455V456M622.5 455V456M627.5 455V456M631.5 455V456M635.5 455V456M639.5 455V456M644.5 455V456M648.5 455V456M652.5 455V456M656.5 455V456M661.5 455V456M665.5 455V456M669.5 455V456M673.5 455V456M677.5 455V456M682.5 455V456M686.5 455V456M690.5 455V456M694.5 455V456M698.5 455V456M703.5 455V456M707.5 455V456M711.5 455V456M715.5 455V456M719.5 455V456M724.5 455V456M728.5 455V456M732.5 455V456M736.5 455V456M740.5 455V456M745.5 455V456M749.5 455V456M753.5 455V456M757.5 455V456M761.5 455V456M765.5 455V456M770.5 455V456M774.5 455V456M778.5 455V456M782.5 455V456M786.5 455V456M790.5 455V456M794.5 455V456M799.5 455V456M803.5 455V456M807.5 455V456M811.5 455V456M815.5 455V456M819.5 455V456M823.5 455V456M828.5 455V456M832.5 455V456M836.5 455V456M840.5 455V456M844.5 455V456M848.5 455V456M852.5 455V456M856.5 455V456M860.5 455V456M865.5 455V456M869.5 455V456M873.5 455V456M877.5 455V456M881.5 455V456M885.5 455V456M889.5 455V456M893.5 455V456M897.5 455V456M901.5 455V456M905.5 455V456M909.5 455V456M914.5 455V456M918.5 455V456M922.5 455V456M926.5 455V456M930.5 455V456M934.5 455V456M938.5 455V456M942.5 455V456M55.5 457V458M59.5 457V458M63.5 457V458M67.5 457V458M72.5 457V458M76.5 457V458M80.5 457V458M84.5 457V458M88.5 457V458M93.5 457V458M97.5 457V458M101.5 457V458M105.5 457V458M109.5 457V458M113.5 457V458M118.5 457V458M122.5 457V458M126.5 457V458M130.5 457V458M134.5 457V458M138.5 457V458M142.5 457V458M147.5 457V458M151.5 457V458M155.5 457V458M159.5 457V458M163.5 457V458M167.5 457V458M171.5 457V458M176.5 457V458M180.5 457V458M184.5 457V458M188.5 457V458M192.5 457V458M196.5 457V458M200.5 457V458M204.5 457V458M209.5 457V458M213.5 457V458M217.5 457V458M221.5 457V458M225.5 457V458M229.5 457V458M233.5 457V458M237.5 457V458M241.5 457V458M246.5 457V458M250.5 457V458M254.5 457V458M258.5 457V458M262.5 457V458M266.5 457V458M270.5 457V458M274.5 457V458M278.5 457V458M282.5 457V458M286.5 457V458M290.5 457V458M294.5 457V458M299.5 457V458M303.5 457V458M307.5 457V458M311.5 457V458M315.5 457V458M319.5 457V458M323.5 457V458M327.5 457V458M331.5 457V458M335.5 457V458M339.5 457V458M343.5 457V458M347.5 457V458M351.5 457V458M355.5 457V458M359.5 457V458M363.5 457V458M367.5 457V458M371.5 457V458M375.5 457V458M379.5 457V458M383.5 457V458M387.5 457V458M391.5 457V458M395.5 457V458M399.5 457V458M403.5 457V458M407.5 457V458M411.5 457V458M415.5 457V458M419.5 457V458M423.5 457V458M427.5 457V458M431.5 457V458M435.5 457V458M439.5 457V458M443.5 457V458M447.5 457V458M451.5 457V458M455.5 457V458M459.5 457V458M463.5 457V458M467.5 457V458M471.5 457V458M475.5 457V458M479.5 457V458M483.5 457V458M487.5 457V458M491.5 457V458M495.5 457V458M499.5 457V458M503.5 457V458M507.5 457V458M511.5 457V458M515.5 457V458M519.5 457V458M522.5 457V458M526.5 457V458M530.5 457V458M534.5 457V458M538.5 457V458M542.5 457V458M546.5 457V458M550.5 457V458M554.5 457V458M558.5 457V458M562.5 457V458M566.5 457V458M570.5 457V458M573.5 457V458M577.5 457V458M581.5 457V458M585.5 457V458M589.5 457V458M593.5 457V458M597.5 457V458M601.5 457V458M605.5 457V458M609.5 457V458M612.5 457V458M616.5 457V458M620.5 457V458M624.5 457V458M628.5 457V458M632.5 457V458M636.5 457V458M640.5 457V458M643.5 457V458M647.5 457V458M651.5 457V458M655.5 457V458M659.5 457V458M663.5 457V458M667.5 457V458M670.5 457V458M674.5 457V458M678.5 457V458M682.5 457V458M686.5 457V458M690.5 457V458M694.5 457V458M697.5 457V458M701.5 457V458M705.5 457V458M709.5 457V458M713.5 457V458M717.5 457V458M720.5 457V458M724.5 457V458M728.5 457V458M732.5 457V458M736.5 457V458M739.5 457V458M743.5 457V458M747.5 457V458M751.5 457V458M755.5 457V458M758.5 457V458M762.5 457V458M766.5 457V458M770.5 457V458M774.5 457V458M777.5 457V458M781.5 457V458M785.5 457V458M789.5 457V458M793.5 457V458M796.5 457V458M800.5 457V458M804.5 457V458M808.5 457V458M812.5 457V458M815.5 457V458M819.5 457V458M823.5 457V458M827.5 457V458M830.5 457V458M834.5 457V458M838.5 457V458M842.5 457V458M845.5 457V458M849.5 457V458M853.5 457V458M857.5 457V458M860.5 457V458M864.5 457V458M868.5 457V458M872.5 457V458M875.5 457V458M879.5 457V458M883.5 457V458M887.5 457V458M890.5 457V458M894.5 457V458M898.5 457V458M901.5 457V458M905.5 457V458M909.5 457V458M913.5 457V458M916.5 457V458M920.5 457V458M924.5 457V458M927.5 457V458M931.5 457V458M935.5 457V458M939.5 457V458M942.5 457V458M946.5 457V458M53.5 459V460M57.5 459V460M60.5 459V460M63.5 459V460M67.5 459V460M70.5 459V460M74.5 459V460M77.5 459V460M80.5 459V460M84.5 459V460M87.5 459V460M91.5 459V460M94.5 459V460M97.5 459V460M101.5 459V460M104.5 459V460M107.5 459V460M111.5 459V460M114.5 459V460M118.5 459V460M121.5 459V460M124.5 459V460M128.5 459V460M131.5 459V460M134.5 459V460M138.5 459V460M141.5 459V460M144.5 459V460M148.5 459V460M151.5 459V460M155.5 459V460M158.5 459V460M161.5 459V460M165.5 459V460M168.5 459V460M171.5 459V460M175.5 459V460M178.5 459V460M181.5 459V460M185.5 459V460M188.5 459V460M191.5 459V460M195.5 459V460M198.5 459V460M201.5 459V460M205.5 459V460M208.5 459V460M211.5 459V460M215.5 459V460M218.5 459V460M221.5 459V460M225.5 459V460M228.5 459V460M231.5 459V460M235.5 459V460M238.5 459V460M241.5 459V460M244.5 459V460M248.5 459V460M251.5 459V460M254.5 459V460M258.5 459V460M261.5 459V460M264.5 459V460M268.5 459V460M271.5 459V460M274.5 459V460M278.5 459V460M281.5 459V460M284.5 459V460M287.5 459V460M291.5 459V460M294.5 459V460M297.5 459V460M301.5 459V460M304.5 459V460M307.5 459V460M310.5 459V460M314.5 459V460M317.5 459V460M320.5 459V460M324.5 459V460M327.5 459V460M330.5 459V460M333.5 459V460M337.5 459V460M340.5 459V460M343.5 459V460M346.5 459V460M350.5 459V460M353.5 459V460M356.5 459V460M360.5 459V460M363.5 459V460M366.5 459V460M369.5 459V460M373.5 459V460M376.5 459V460M379.5 459V460M382.5 459V460M386.5 459V460M389.5 459V460M392.5 459V460M395.5 459V460M399.5 459V460M402.5 459V460M405.5 459V460M408.5 459V460M411.5 459V460M415.5 459V460M418.5 459V460M421.5 459V460M424.5 459V460M428.5 459V460M431.5 459V460M434.5 459V460M437.5 459V460M441.5 459V460M444.5 459V460M447.5 459V460M450.5 459V460M453.5 459V460M457.5 459V460M460.5 459V460M463.5 459V460M466.5 459V460M469.5 459V460M473.5 459V460M476.5 459V460M479.5 459V460M482.5 459V460M486.5 459V460M489.5 459V460M492.5 459V460M495.5 459V460M498.5 459V460M502.5 459V460M505.5 459V460M508.5 459V460M511.5 459V460M514.5 459V460M517.5 459V460M521.5 459V460M524.5 459V460M527.5 459V460M530.5 459V460M533.5 459V460M537.5 459V460M540.5 459V460M543.5 459V460M546.5 459V460M549.5 459V460M552.5 459V460M556.5 459V460M559.5 459V460M562.5 459V460M565.5 459V460M568.5 459V460M571.5 459V460M575.5 459V460M578.5 459V460M581.5 459V460M584.5 459V460M587.5 459V460M590.5 459V460M594.5 459V460M597.5 459V460M600.5 459V460M603.5 459V460M606.5 459V460M609.5 459V460M613.5 459V460M616.5 459V460M619.5 459V460M622.5 459V460M625.5 459V460M628.5 459V460M631.5 459V460M634.5 459V460M638.5 459V460M641.5 459V460M644.5 459V460M647.5 459V460M650.5 459V460M653.5 459V460M656.5 459V460M660.5 459V460M663.5 459V460M666.5 459V460M669.5 459V460M672.5 459V460M675.5 459V460M678.5 459V460M681.5 459V460M684.5 459V460M688.5 459V460M691.5 459V460M694.5 459V460M697.5 459V460M700.5 459V460M703.5 459V460M706.5 459V460M709.5 459V460M712.5 459V460M716.5 459V460M719.5 459V460M722.5 459V460M725.5 459V460M728.5 459V460M731.5 459V460M734.5 459V460M737.5 459V460M740.5 459V460M743.5 459V460M746.5 459V460M750.5 459V460M753.5 459V460M756.5 459V460M759.5 459V460M762.5 459V460M765.5 459V460M768.5 459V460M771.5 459V460M774.5 459V460M777.5 459V460M780.5 459V460M783.5 459V460M786.5 459V460M789.5 459V460M793.5 459V460M796.5 459V460M799.5 459V460M802.5 459V460M805.5 459V460M808.5 459V460M811.5 459V460M814.5 459V460M817.5 459V460M820.5 459V460M823.5 459V460M826.5 459V460M829.5 459V460M832.5 459V460M835.5 459V460M838.5 459V460M841.5 459V460M844.5 459V460M847.5 459V460M51.5 461V462M53.5 461V462M56.5 461V462M59.5 461V462M61.5 461V462M64.5 461V462M66.5 461V462M69.5 461V462M72.5 461V462M74.5 461V462M77.5 461V462M79.5 461V462M82.5 461V462M85.5 461V462M87.5 461V462M90.5 461V462M92.5 461V462M95.5 461V462M98.5 461V462M100.5 461V462M103.5 461V462M105.5 461V462M108.5 461V462M110.5 461V462M113.5 461V462M116.5 461V462M118.5 461V462M121.5 461V462M123.5 461V462M126.5 461V462M128.5 461V462M131.5 461V462M134.5 461V462M136.5 461V462M139.5 461V462M141.5 461V462M144.5 461V462M146.5 461V462M149.5 461V462M152.5 461V462M154.5 461V462M157.5 461V462M159.5 461V462M162.5 461V462M164.5 461V462M167.5 461V462M170.5 461V462M172.5 461V462M175.5 461V462M177.5 461V462M180.5 461V462M182.5 461V462M185.5 461V462M187.5 461V462M190.5 461V462M193.5 461V462M195.5 461V462M198.5 461V462M200.5 461V462M203.5 461V462M205.5 461V462M208.5 461V462M210.5 461V462M213.5 461V462M215.5 461V462M218.5 461V462M221.5 461V462M223.5 461V462M226.5 461V462M228.5 461V462M231.5 461V462M233.5 461V462M236.5 461V462M238.5 461V462M241.5 461V462M243.5 461V462M246.5 461V462M248.5 461V462M251.5 461V462M253.5 461V462M256.5 461V462M259.5 461V462M261.5 461V462M264.5 461V462M266.5 461V462M269.5 461V462M271.5 461V462M274.5 461V462M276.5 461V462M279.5 461V462M281.5 461V462M284.5 461V462M286.5 461V462M289.5 461V462M291.5 461V462M294.5 461V462M296.5 461V462M299.5 461V462M301.5 461V462M304.5 461V462M306.5 461V462M309.5 461V462M311.5 461V462M314.5 461V462M316.5 461V462M319.5 461V462M321.5 461V462M324.5 461V462M326.5 461V462M329.5 461V462M331.5 461V462M334.5 461V462M336.5 461V462M339.5 461V462M341.5 461V462M344.5 461V462M346.5 461V462M349.5 461V462M351.5 461V462M354.5 461V462M356.5 461V462M359.5 461V462M361.5 461V462M364.5 461V462M366.5 461V462M369.5 461V462M371.5 461V462M374.5 461V462M376.5 461V462M379.5 461V462M381.5 461V462M384.5 461V462M386.5 461V462M389.5 461V462M391.5 461V462M394.5 461V462M396.5 461V462M399.5 461V462M401.5 461V462M404.5 461V462M406.5 461V462M409.5 461V462M411.5 461V462M414.5 461V462M416.5 461V462M419.5 461V462M421.5 461V462M423.5 461V462M426.5 461V462M428.5 461V462M431.5 461V462M433.5 461V462M436.5 461V462M438.5 461V462M441.5 461V462M443.5 461V462M446.5 461V462M448.5 461V462M451.5 461V462M453.5 461V462M455.5 461V462M458.5 461V462M460.5 461V462M463.5 461V462M465.5 461V462M468.5 461V462M470.5 461V462M473.5 461V462M475.5 461V462M478.5 461V462M480.5 461V462M483.5 461V462M485.5 461V462M487.5 461V462M490.5 461V462M492.5 461V462M495.5 461V462M497.5 461V462M500.5 461V462M502.5 461V462M505.5 461V462M507.5 461V462M509.5 461V462M512.5 461V462M514.5 461V462M517.5 461V462M519.5 461V462M522.5 461V462M524.5 461V462M526.5 461V462M529.5 461V462M531.5 461V462M534.5 461V462M536.5 461V462M539.5 461V462M541.5 461V462M543.5 461V462M546.5 461V462M548.5 461V462M551.5 461V462M553.5 461V462M556.5 461V462M558.5 461V462M560.5 461V462M563.5 461V462M565.5 461V462M568.5 461V462M570.5 461V462M573.5 461V462M575.5 461V462M577.5 461V462M580.5 461V462M582.5 461V462M585.5 461V462M587.5 461V462M589.5 461V462M592.5 461V462M594.5 461V462M597.5 461V462M599.5 461V462M602.5 461V462M604.5 461V462M606.5 461V462M609.5 461V462M611.5 461V462M614.5 461V462M616.5 461V462M618.5 461V462M621.5 461V462M623.5 461V462M626.5 461V462M628.5 461V462M630.5 461V462M633.5 461V462M635.5 461V462M638.5 461V462M640.5 461V462M642.5 461V462M645.5 461V462M647.5 461V462M650.5 461V462M652.5 461V462M654.5 461V462M657.5 461V462M659.5 461V462M662.5 461V462M664.5 461V462M666.5 461V462M669.5 461V462M671.5 461V462M673.5 461V462M676.5 461V462M678.5 461V462M681.5 461V462M683.5 461V462M685.5 461V462M688.5 461V462M690.5 461V462M693.5 461V462M695.5 461V462M697.5 461V462M700.5 461V462M702.5 461V462M704.5 461V462M707.5 461V462M709.5 461V462M712.5 461V462M714.5 461V462M716.5 461V462M719.5 461V462M721.5 461V462M723.5 461V462M726.5 461V462M728.5 461V462M730.5 461V462M733.5 461V462M735.5 461V462M738.5 461V462M740.5 461V462M742.5 461V462M745.5 461V462M747.5 461V462M749.5 461V462M752.5 461V462M754.5 461V462M756.5 461V462M759.5 461V462M761.5 461V462M763.5 461V462M766.5 461V462M768.5 461V462M771.5 461V462M773.5 461V462M775.5 461V462M778.5 461V462M780.5 461V462M782.5 461V462M785.5 461V462M787.5 461V462M789.5 461V462M792.5 461V462M794.5 461V462M796.5 461V462M799.5 461V462M801.5 461V462M803.5 461V462M806.5 461V462M808.5 461V462M810.5 461V462M813.5 461V462M815.5 461V462M817.5 461V462M820.5 461V462M822.5 461V462M824.5 461V462M827.5 461V462M829.5 461V462M831.5 461V462M834.5 461V462M836.5 461V462M838.5 461V462M48.5 463V464M51.5 463V464M54.5 463V464M56.5 463V464M59.5 463V464M61.5 463V464M64.5 463V464M67.5 463V464M69.5 463V464M72.5 463V464M74.5 463V464M77.5 463V464M79.5 463V464M82.5 463V464M85.5 463V464M87.5 463V464M90.5 463V464M92.5 463V464M95.5 463V464M98.5 463V464M100.5 463V464M103.5 463V464M105.5 463V464M108.5 463V464M110.5 463V464M113.5 463V464M116.5 463V464M118.5 463V464M121.5 463V464M123.5 463V464M126.5 463V464M128.5 463V464M131.5 463V464M134.5 463V464M136.5 463V464M139.5 463V464M141.5 463V464M144.5 463V464M146.5 463V464M149.5 463V464M152.5 463V464M154.5 463V464M157.5 463V464M159.5 463V464M162.5 463V464M164.5 463V464M167.5 463V464M170.5 463V464M172.5 463V464M175.5 463V464M177.5 463V464M180.5 463V464M182.5 463V464M185.5 463V464M187.5 463V464M190.5 463V464M193.5 463V464M195.5 463V464M198.5 463V464M200.5 463V464M203.5 463V464M205.5 463V464M208.5 463V464M210.5 463V464M213.5 463V464M215.5 463V464M218.5 463V464M221.5 463V464M223.5 463V464M226.5 463V464M228.5 463V464M231.5 463V464M233.5 463V464M236.5 463V464M238.5 463V464M241.5 463V464M243.5 463V464M246.5 463V464M248.5 463V464M251.5 463V464M253.5 463V464M256.5 463V464M259.5 463V464M261.5 463V464M264.5 463V464M266.5 463V464M269.5 463V464M271.5 463V464M274.5 463V464M276.5 463V464M279.5 463V464M281.5 463V464M284.5 463V464M286.5 463V464M289.5 463V464M291.5 463V464M294.5 463V464M296.5 463V464M299.5 463V464M301.5 463V464M304.5 463V464M306.5 463V464M309.5 463V464M311.5 463V464M314.5 463V464M316.5 463V464M319.5 463V464M321.5 463V464M324.5 463V464M326.5 463V464M329.5 463V464M331.5 463V464M334.5 463V464M336.5 463V464M339.5 463V464M341.5 463V464M344.5 463V464M346.5 463V464M349.5 463V464M351.5 463V464M354.5 463V464M356.5 463V464M359.5 463V464M361.5 463V464M364.5 463V464M366.5 463V464M369.5 463V464M371.5 463V464M374.5 463V464M376.5 463V464M379.5 463V464M381.5 463V464M384.5 463V464M386.5 463V464M389.5 463V464M391.5 463V464M394.5 463V464M396.5 463V464M399.5 463V464M401.5 463V464M404.5 463V464M406.5 463V464M409.5 463V464M411.5 463V464M414.5 463V464M416.5 463V464M418.5 463V464M421.5 463V464M423.5 463V464M426.5 463V464M428.5 463V464M431.5 463V464M433.5 463V464M436.5 463V464M438.5 463V464M441.5 463V464M443.5 463V464M446.5 463V464M448.5 463V464M451.5 463V464M453.5 463V464M455.5 463V464M458.5 463V464M460.5 463V464M463.5 463V464M465.5 463V464M468.5 463V464M470.5 463V464M473.5 463V464M475.5 463V464M478.5 463V464M480.5 463V464M482.5 463V464M485.5 463V464M487.5 463V464M490.5 463V464M492.5 463V464M495.5 463V464M497.5 463V464M500.5 463V464M502.5 463V464M505.5 463V464M507.5 463V464M509.5 463V464M512.5 463V464M514.5 463V464M517.5 463V464M519.5 463V464M522.5 463V464M524.5 463V464M526.5 463V464M529.5 463V464M531.5 463V464M534.5 463V464M536.5 463V464M539.5 463V464M541.5 463V464M543.5 463V464M546.5 463V464M548.5 463V464M551.5 463V464M553.5 463V464M556.5 463V464M558.5 463V464M560.5 463V464M563.5 463V464M565.5 463V464M568.5 463V464M570.5 463V464M573.5 463V464M575.5 463V464M577.5 463V464M580.5 463V464M582.5 463V464M585.5 463V464M587.5 463V464M589.5 463V464M592.5 463V464M594.5 463V464M597.5 463V464M599.5 463V464M602.5 463V464M604.5 463V464M606.5 463V464M609.5 463V464M611.5 463V464M614.5 463V464M616.5 463V464M618.5 463V464M621.5 463V464M623.5 463V464M626.5 463V464M628.5 463V464M630.5 463V464M633.5 463V464M635.5 463V464M638.5 463V464M640.5 463V464M642.5 463V464M645.5 463V464M647.5 463V464M650.5 463V464M652.5 463V464M654.5 463V464M657.5 463V464M659.5 463V464M662.5 463V464M664.5 463V464M666.5 463V464M669.5 463V464M671.5 463V464M673.5 463V464M676.5 463V464M678.5 463V464M681.5 463V464M683.5 463V464M685.5 463V464M688.5 463V464M690.5 463V464M693.5 463V464M695.5 463V464M697.5 463V464M700.5 463V464M702.5 463V464M704.5 463V464M707.5 463V464M709.5 463V464M712.5 463V464M714.5 463V464M716.5 463V464M719.5 463V464M721.5 463V464M723.5 463V464M726.5 463V464M728.5 463V464M730.5 463V464M733.5 463V464M735.5 463V464M738.5 463V464M740.5 463V464M742.5 463V464M745.5 463V464M747.5 463V464M749.5 463V464M752.5 463V464M754.5 463V464M756.5 463V464M759.5 463V464M761.5 463V464M763.5 463V464M766.5 463V464M768.5 463V464M771.5 463V464M773.5 463V464M775.5 463V464M778.5 463V464M780.5 463V464M782.5 463V464M785.5 463V464M787.5 463V464M789.5 463V464M792.5 463V464M794.5 463V464M796.5 463V464M799.5 463V464M801.5 463V464M803.5 463V464M806.5 463V464M808.5 463V464M810.5 463V464M813.5 463V464M815.5 463V464M817.5 463V464M820.5 463V464M822.5 463V464M824.5 463V464M827.5 463V464M829.5 463V464M831.5 463V464M834.5 463V464M836.5 463V464M838.5 463V464M841.5 463V464M843.5 463V464M845.5 463V464M848.5 463V464M0 96.5H1000M0 166.5H1000M0 211.5H1000M0 244.5H1000M0 266.5H1000M0 286.5H1000M0 304.5H1000M0 318.5H1000M0 331.5H1000M0 342.5H1000M0 352.5H1000M0 360.5H1000M0 368.5H1000M0 375.5H1000M0 381.5H1000M0 386.5H1000M0 391.5H1000M0 396.5H1000M0 400.5H1000M0 404.5H1000M0 408.5H1000M0 412.5H1000M0 416.5H1000M0 419.5H1000M0 422.5H1000M0 425.5H1000M0 428.5H1000M0 431.5H1000M0 434.5H1000M0 437.5H1000M0 439.5H1000M0 442.5H1000M0 444.5H1000M0 447.5H1000M0 449.5H1000M0 452.5H1000M0 454.5H1000M0 456.5H1000M0 458.5H1000M0 460.5H1000M0 462.5H1000M0 464.5H1000" stroke="#000" stroke-width="1" fill="none"/>
<rect x="0" y="465" width="1000" height="25" fill="#cc2200"/>
</g>
<rect x="20" y="490" width="960" height="1" fill="#fff"/>
<g font-family="DejaVu Serif Condensed, DejaVu Serif, serif" font-weight="bold" font-size="11.5" fill="#000" stroke="#000" stroke-width="0.3" text-anchor="middle">
<text x="504.6" y="55.8">the</text>
<text x="412.8" y="134.0">i</text>
<text x="512" y="134.0">a</text>
<text x="573.6" y="134.0">to</text>
<text x="354" y="191.0">it</text>
<text x="438.6" y="191.0">in</text>
<text x="510.5" y="191.0">you</text>
<text x="581.2" y="191.0">and</text>
<text x="636.4" y="191.0">is</text>
<text x="324.5" y="229.6">of</text>
<text x="412" y="229.6">that</text>
<text x="481.2" y="229.6">for</text>
<text x="544.2" y="229.6">on</text>
<text x="599.5" y="229.6">was</text>
<text x="650" y="229.6">have</text>
<text x="691.2" y="229.6">my</text>
<text x="286.2" y="258.0">be</text>
<text x="350.8" y="258.0">not</text>
<text x="408.2" y="258.0">like</text>
<text x="463.8" y="258.0">just</text>
<text x="516.5" y="258.0">it&#39;s</text>
<text x="574.5" y="258.0">but</text>
<text x="628" y="258.0">me</text>
<text x="677" y="258.0">get</text>
<text x="718" y="258.0">so</text>
<text x="260" y="279.0">are</text>
<text x="312" y="279.0">with</text>
<text x="363" y="279.0">no</text>
<text x="411" y="279.0">this</text>
<text x="463.5" y="279.0">i&#39;m</text>
<text x="512" y="279.0">they</text>
<text x="559" y="279.0">at</text>
<text x="607" y="279.0">do</text>
<text x="654.4" y="279.0">one</text>
<text x="697.6" y="279.0">all</text>
<text x="739.6" y="279.0">what</text>
<text x="239" y="298.0">if</text>
<text x="292.5" y="298.0">up</text>
<text x="340.5" y="298.0">lol</text>
<text x="391" y="298.0">out</text>
<text x="438.6" y="298.0">there</text>
<text x="485" y="298.0">or</text>
<text x="529" y="298.0">your</text>
<text x="571" y="298.0">as</text>
<text x="614.5" y="298.0">about</text>
<text x="655" y="298.0">can</text>
<text x="693" y="298.0">don&#39;t</text>
<text x="735.4" y="298.0">from</text>
<text x="769" y="298.0">now</text>
</g>
<g font-family="DejaVu Serif, serif">
<text x="61" y="60" fill="#ffff00" stroke="#ffff00" stroke-width="0.25" font-size="17" textLength="219" lengthAdjust="spacingAndGlyphs">These 49 words make up</text>
<text x="289.8" y="60" fill="#ffa000" stroke="#ffa000" stroke-width="0.25" font-size="17" textLength="64" lengthAdjust="spacingAndGlyphs">37.52%</text>
<text x="61" y="79.2" fill="#ffff00" stroke="#ffff00" stroke-width="0.25" font-size="17" textLength="273.5" lengthAdjust="spacingAndGlyphs">of all words spoken this month</text>
<text x="57.8" y="127.6" fill="#ffff00" stroke="#ffff00" stroke-width="0.25" font-size="17" textLength="53.2" lengthAdjust="spacingAndGlyphs">Scale:</text>
<rect x="117" y="117" width="10" height="11" fill="#ffa000"/>
<text x="134.2" y="127.6" fill="#ffff00" font-size="17" font-weight="bold" textLength="11.6" lengthAdjust="spacingAndGlyphs">=</text>
<text x="150" y="127.6" fill="#ffff00" stroke="#ffff00" stroke-width="0.25" font-size="17" textLength="82" lengthAdjust="spacingAndGlyphs">86 words</text>
<text x="55.4" y="180" fill="#ffff00" stroke="#ffff00" stroke-width="0.25" font-size="17" textLength="189.6" lengthAdjust="spacingAndGlyphs">Vocabulary needed to</text>
<text x="61.6" y="199.4" fill="#ffff00" stroke="#ffff00" stroke-width="0.25" font-size="17" textLength="166.4" lengthAdjust="spacingAndGlyphs">understand 90% of</text>
<text x="55.2" y="219.6" fill="#ffff00" stroke="#ffff00" stroke-width="0.25" font-size="17" textLength="117.6" lengthAdjust="spacingAndGlyphs">conversation:</text>
<text x="185.4" y="219.6" fill="#ffa000" stroke="#ffa000" stroke-width="0.25" font-size="17" textLength="42.6" lengthAdjust="spacingAndGlyphs">3576</text>
<text x="640.2" y="59.1" fill="#ffff00" stroke="#ffff00" stroke-width="0.25" font-size="17" textLength="292.6" lengthAdjust="spacingAndGlyphs">Most common uncommon words:</text>
<text x="660.5" y="80.1" fill="#ffa000" stroke="#ffa000" stroke-width="0.25" font-size="17" textLength="264.5" lengthAdjust="spacingAndGlyphs">sleeps, weh, waf, lad, skerries</text>
<text x="660.5" y="94.9" fill="#ffa000" stroke="#ffa000" stroke-width="0.25" font-size="17" textLength="259.3" lengthAdjust="spacingAndGlyphs">tay, wafs, wot, td, chilli, woke</text>
<text x="660.5" y="109.3" fill="#ffa000" stroke="#ffa000" stroke-width="0.25" font-size="17" textLength="290.2" lengthAdjust="spacingAndGlyphs">waterford, ew, coz, steak, deputy</text>
<text x="660.5" y="124.6" fill="#ffa000" stroke="#ffa000" stroke-width="0.25" font-size="17" textLength="294.5" lengthAdjust="spacingAndGlyphs">figlet, awh, bitta, havent, infinite</text>
<text x="660.5" y="139.6" fill="#ffa000" stroke="#ffa000" stroke-width="0.25" font-size="17" textLength="143.0" lengthAdjust="spacingAndGlyphs">tho, fg, yeh, bah</text>
<text x="731" y="200" fill="#ffff00" stroke="#ffff00" stroke-width="0.25" font-size="17" textLength="196.4" lengthAdjust="spacingAndGlyphs">Unique to one person:</text>
<text x="800.6" y="220" fill="#ffa000" stroke="#ffa000" stroke-width="0.25" font-size="17" textLength="74" lengthAdjust="spacingAndGlyphs">wonders</text>
<text x="777.5" y="239.2" fill="#ffff00" stroke="#ffff00" stroke-width="0.25" font-size="17" textLength="118.7" lengthAdjust="spacingAndGlyphs">said 14 times</text>
</g>
<text x="153.6" y="482" font-family="DejaVu Serif, serif" font-weight="bold" font-size="12" fill="#100000" textLength="694" lengthAdjust="spacing">This foundation of typos, made-up words and infrequent words contains 76.71% of all words</text>
</svg></body></html>
